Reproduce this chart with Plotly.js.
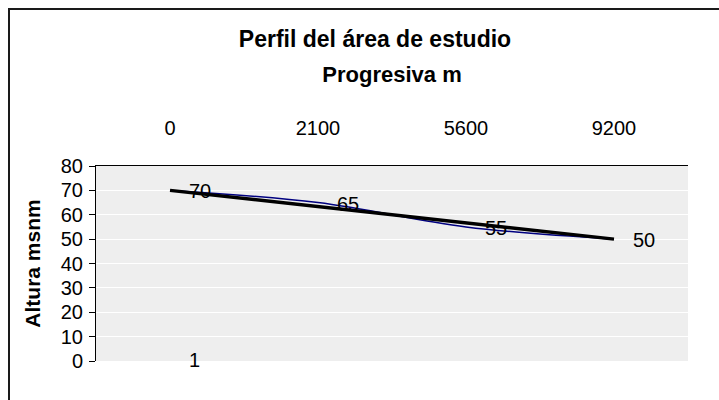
<!DOCTYPE html>
<html>
<head>
<meta charset="utf-8">
<script src="https://cdn.plot.ly/plotly-3.0.1.min.js"></script>
<style>
  html, body { margin: 0; padding: 0; background: #ffffff; }
  #chart { width: 719px; height: 400px; }
</style>
</head>
<body>
<div id="chart"></div>
<script>
// ---- data ----
const categories = ['0', '2100', '5600', '9200'];   // Progresiva m
const altura = [70, 65, 55, 50];                    // Altura msnm
const trendCategories = ['0', '9200'];
const trendValues = [70, 50];                       // black trend line
const serie2Categories = ['0'];
const serie2Values = [1];                           // small series labelled "1"
const yTicks = [0, 10, 20, 30, 40, 50, 60, 70, 80];

const FONT = '"Liberation Sans", Arial, sans-serif';

const traces = [
  {
    x: categories, y: altura, type: 'scatter', mode: 'lines',
    line: { color: '#000080', width: 1.5, shape: 'spline', smoothing: 1 },
    hoverinfo: 'skip', showlegend: false
  },
  {
    x: trendCategories, y: trendValues, type: 'scatter', mode: 'lines',
    line: { color: '#000000', width: 3.5 },
    hoverinfo: 'skip', showlegend: false
  },
  {
    x: serie2Categories, y: serie2Values, type: 'scatter', mode: 'lines',
    line: { color: 'rgba(0,0,0,0)', width: 0 },
    hoverinfo: 'skip', showlegend: false
  }
];

// annotations on a category axis take the category's serial index
const labelAnn = (xs, ys) => xs.map((c, i) => ({
  x: categories.indexOf(c), y: ys[i], xref: 'x', yref: 'y', text: String(ys[i]),
  showarrow: false, xanchor: 'left', yanchor: 'middle', xshift: 17, yshift: -1,
  font: { family: FONT, size: 20, color: '#000000' }
}));

const annotations = labelAnn(categories, altura).concat(labelAnn(serie2Categories, serie2Values));

const layout = {
  width: 719, height: 400,
  margin: { l: 96, r: 31, t: 166, b: 39, pad: 0 },
  paper_bgcolor: '#ffffff',
  plot_bgcolor: '#eeeeee',
  font: { family: FONT, size: 20, color: '#000000' },
  title: {
    text: 'Perfil del área de estudio',
    font: { family: FONT, size: 23, weight: 'bold', color: '#000000' },
    xref: 'container', x: 375 / 719, xanchor: 'center',
    yref: 'container', y: 1 - 39 / 400, yanchor: 'middle'
  },
  xaxis: {
    type: 'category', side: 'top', range: [-0.5, 3.5],
    showline: true, linecolor: '#000000', linewidth: 1,
    ticks: '', showgrid: false, zeroline: false,
    tickfont: { family: FONT, size: 20, color: '#000000' },
    ticklabelstandoff: 22,
    automargin: false,
    title: {
      text: 'Progresiva m',
      font: { family: FONT, size: 22, weight: 'bold', color: '#000000' },
      standoff: 28
    }
  },
  yaxis: {
    range: [0, 80], tickvals: yTicks, ticktext: yTicks.map(String),
    showline: true, linecolor: '#000000', linewidth: 1,
    ticks: 'outside', ticklen: 6, tickcolor: '#000000', tickwidth: 1,
    showgrid: true, gridcolor: '#ffffff', gridwidth: 1, zeroline: false,
    tickfont: { family: FONT, size: 20, color: '#000000' },
    ticklabelstandoff: 2,
    automargin: false,
    title: {
      text: 'Altura msnm',
      font: { family: FONT, size: 21, weight: 'bold', color: '#000000' },
      standoff: 14
    }
  },
  shapes: [
    {
      type: 'path', xref: 'paper', yref: 'paper',
      path: 'M ' + ((9 - 96) / 592) + ' ' + ((361 - 420) / 195) +
            ' L ' + ((9 - 96) / 592) + ' ' + ((361 - 9) / 195) +
            ' L ' + ((740 - 96) / 592) + ' ' + ((361 - 9) / 195),
      line: { color: '#1a1a1a', width: 2 }
    }
  ],
  annotations: annotations,
  showlegend: false
};

Plotly.newPlot('chart', traces, layout, { staticPlot: true, displayModeBar: false });
</script>
</body>
</html>
